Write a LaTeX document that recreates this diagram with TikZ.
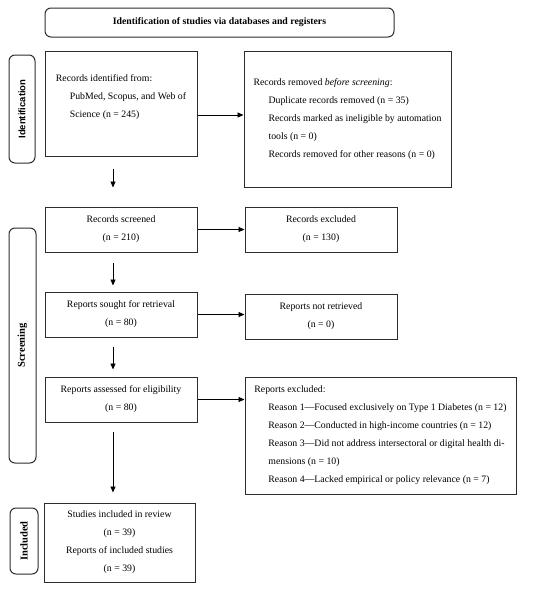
\documentclass[tikz,border=0pt]{standalone}
\usepackage{fontspec}
\setmainfont{Liberation Serif}
\newfontfamily\labsans{Liberation Sans}
\usetikzlibrary{arrows.meta}
\definecolor{edge}{RGB}{45,45,45}
\begin{document}
\begin{tikzpicture}[x=1pt,y=-1pt,
  box/.style={draw=edge, line width=1pt, inner sep=0pt, font=\fontsize{9.8}{18}\selectfont},
  lbox/.style={box, align=left},
  cbox/.style={box, align=center},
  phase/.style={draw=edge, line width=1pt, rounded corners=6pt, inner sep=0pt, rotate=90},
  arr/.style={draw=black, line width=0.8pt, -{Triangle[length=6pt,width=5pt]}}
]
\useasboundingbox[fill=white] (0,0) rectangle (550,589);

% title
\node[draw=edge, line width=1pt, rounded corners=6pt, minimum width=349pt, minimum height=29pt,
      font=\fontsize{9.8}{12}\selectfont\bfseries] (title) at (219.5,22.5)
      {Identification of studies via databases and registers};

% phase labels
\node[phase, minimum width=108pt, minimum height=26pt, font=\labsans\fontsize{9.5}{11}\selectfont\bfseries] (idlab) at (22,109) {Identification};
\node[phase, minimum width=235pt, minimum height=27pt, font=\fontsize{10.5}{12}\selectfont\bfseries] (scrlab) at (22.5,345.5) {Screening};
\node[phase, minimum width=66pt, minimum height=28pt, font=\fontsize{10.5}{12}\selectfont\bfseries] (inclab) at (24,541) {Included};

% identification
\node[lbox, minimum width=152pt, minimum height=105pt] (A) at (121,103.5)
  {Records identified from:\\
   \hspace*{14pt}PubMed, Scopus, and Web of\\
   \hspace*{14pt}Science (n = 245)\\[-4pt]\mbox{}};
\node[lbox, minimum width=207pt, minimum height=136pt] (B) at (347.5,119)
  {Records removed \textit{before screening}:\\
   \hspace*{15pt}Duplicate records removed (n = 35)\\
   \hspace*{15pt}Records marked as ineligible by automation\\
   \hspace*{15pt}tools (n = 0)\\
   \hspace*{15pt}Records removed for other reasons (n = 0)};

% screening
\node[cbox, minimum width=152pt, minimum height=45pt] (S) at (121,229.5) {Records screened\\(n = 210)};
\node[cbox, minimum width=152pt, minimum height=45pt] (SE) at (321,229.5) {Records excluded\\(n = 130)};
\node[cbox, minimum width=152pt, minimum height=45pt] (R) at (121,314.5) {Reports sought for retrieval\\(n = 80)};
\node[cbox, minimum width=152pt, minimum height=45pt] (RN) at (321,316.5) {Reports not retrieved\\(n = 0)};
\node[cbox, minimum width=152pt, minimum height=45pt] (E) at (121,399.5) {Reports assessed for eligibility\\(n = 80)};
\node[lbox, minimum width=271pt, minimum height=117pt] (EX) at (380.5,435.5)
  {Reports excluded:\\
   \hspace*{14pt}Reason 1—Focused exclusively on Type 1 Diabetes (n = 12)\\
   \hspace*{14pt}Reason 2—Conducted in high-income countries (n = 12)\\
   \hspace*{14pt}Reason 3—Did not address intersectoral or digital health di-\\
   \hspace*{14pt}mensions (n = 10)\\
   \hspace*{14pt}Reason 4—Lacked empirical or policy relevance (n = 7)};

% included
\node[cbox, minimum width=151pt, minimum height=79pt] (I) at (119.5,542.5)
  {Studies included in review\\(n = 39)\\Reports of included studies\\(n = 39)};

% horizontal arrows
\draw[arr] ([yshift=-11.5pt]A.east) -- ([yshift=-11.5pt]A.east -| B.west);
\draw[arr] (S.east) -- (S.east -| SE.west);
\draw[arr] (R.east) -- (R.east -| RN.west);
\draw[arr] (E.east) -- (E.east -| EX.west);

% vertical arrows
\draw[arr] ([xshift=-8pt,yshift=-12pt]A.south) -- ([xshift=-8pt,yshift=19pt]S.north);
\draw[arr] ([xshift=-8pt,yshift=-10pt]S.south) -- ([xshift=-8pt,yshift=6pt]R.north);
\draw[arr] ([xshift=-8pt,yshift=-9pt]R.south) -- ([xshift=-8pt,yshift=7pt]E.north);
\draw[arr] ([xshift=-8pt,yshift=-9pt]E.south) -- ([xshift=-6.5pt,yshift=10pt]I.north);
\end{tikzpicture}
\end{document}
